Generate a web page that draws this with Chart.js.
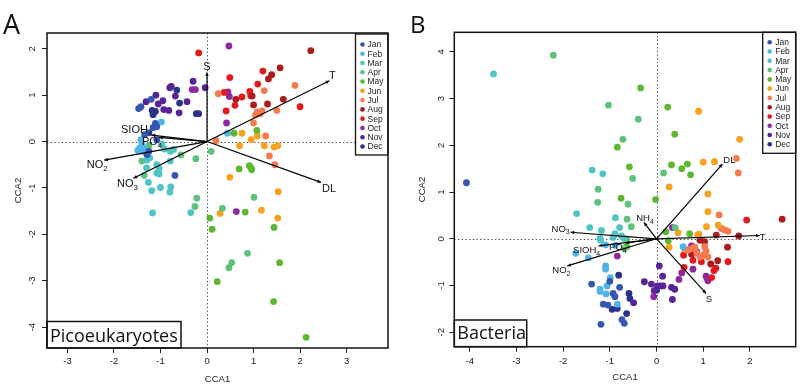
<!DOCTYPE html>
<html><head><meta charset="utf-8">
<script src="https://cdn.jsdelivr.net/npm/chart.js@4.4.0/dist/chart.umd.min.js"></script>
<style>
html,body{margin:0;padding:0;background:#fff;width:800px;height:390px;overflow:hidden}
canvas{position:absolute;top:0}
#cA{left:0}#cB{left:400px}
</style></head><body>
<canvas id="cA" width="400" height="390"></canvas>
<canvas id="cB" width="400" height="390"></canvas>
<script>
const months = ['Jan','Feb','Mar','Apr','May','Jun','Jul','Aug','Sep','Oct','Nov','Dec'];
const monthColors = ['#3656b3','#4fb4e6','#4fc4c4','#5dc27c','#5bb830','#f7a11f','#f67a50','#ab1b1b','#e3191d','#8d28a0','#5a2399','#29318a'];

const xTicksA = [-3,-2,-1,0,1,2,3];
const yTicksA = [-4,-3,-2,-1,0,1,2];
const xTicksB = [-4,-3,-2,-1,0,1,2];
const yTicksB = [-2,-1,0,1,2,3,4];

// Panel A: Picoeukaryotes, [CCA1, CCA2] per month
const picoJan = [[-1.42,0.75],[-1.47,0.71],[-1.20,0.91],[-1.11,0.39],[-1.08,0.32],[-1.16,0.30],[-1.25,0.19],[-1.34,0.15],[-1.08,0.04],[-1.25,-0.21],[-1.29,-0.28],[-0.69,-0.73]];
const picoFeb = [[-0.98,0.42],[-1.42,0.04],[-1.45,-0.14],[-1.40,-0.21],[-1.49,-0.19],[-1.36,-0.14],[-1.30,-0.27],[-1.40,-0.05],[0.44,0.18]];
const picoMar = [[-0.97,-0.05],[-0.79,-0.21],[-0.72,-0.17],[-0.92,-0.16],[-1.29,-0.40],[-1.23,-0.35],[-1.08,-0.50],[-0.79,-0.42],[-1.03,-0.58],[-1.08,-0.68],[-1.03,-0.70],[-1.30,-0.57],[-1.26,-0.88],[-1.19,-1.06],[-1.00,-0.99],[-0.78,-0.98],[-0.80,-1.09],[-1.17,-1.54],[-0.35,-1.53]];
const picoApr = [[-1.25,-0.09],[-1.40,-0.42],[-1.35,-0.73],[-0.24,-0.37],[-0.56,-0.29],[0.09,-0.21],[-0.22,-1.22],[-0.26,-1.40],[0.33,-1.44],[1.01,-1.20],[0.87,-2.41],[0.53,-2.61],[0.47,-2.72]];
const picoMay = [[0.58,0.18],[1.07,0.24],[0.69,-0.59],[0.91,-0.52],[0.95,-0.57],[0.96,-0.61],[0.82,-1.52],[0.06,-1.65],[0.11,-1.89],[1.44,-1.85],[1.56,-2.61],[0.22,-3.02],[1.43,-3.45],[2.13,-4.22]];
const picoJun = [[0.75,0.18],[1.08,0.12],[0.95,0.04],[0.70,-0.09],[1.23,-0.09],[1.44,-0.12],[1.52,-0.09],[0.49,-0.77],[1.53,-1.08],[0.28,-1.55],[1.17,-1.48],[1.52,-1.65]];
const picoJul = [[1.89,1.21],[1.23,1.10],[0.24,1.03],[1.08,0.64],[1.10,0.62],[1.18,0.66],[1.14,0.60],[1.04,0.57],[1.50,0.67],[1.00,0.40],[1.26,0.12],[0.19,0.02],[1.34,-0.31],[1.46,-0.50]];
const picoAug = [[2.23,1.96],[1.57,1.59],[1.39,1.44],[1.32,1.35],[0.62,0.91],[0.97,0.98],[1.64,0.91],[1.30,0.81],[1.00,0.79]];
const picoSep = [[-0.18,1.91],[1.20,1.52],[0.49,1.38],[1.09,1.24],[0.92,1.08],[0.94,0.99],[0.37,1.06],[0.75,0.96],[0.60,0.78],[0.41,0.66],[2.00,0.75]];
const picoOct = [[0.47,2.06],[0.45,1.07],[0.48,0.97],[0.42,0.40],[-0.32,1.12],[-0.25,1.12],[0.63,-1.51]];
const picoNov = [[-0.30,1.30],[-0.77,1.19],[-0.80,1.16],[-0.68,0.98],[-1.10,1.00],[-1.31,0.86],[-0.95,0.88],[-1.05,0.81],[-0.43,0.86],[-0.93,0.69],[-0.82,0.67],[-0.60,0.62],[-0.04,1.16]];
const picoDec = [[-0.65,1.11],[-0.59,0.83],[-1.18,0.67],[-1.11,0.65],[-1.16,0.58],[-0.23,0.60],[-0.18,0.60]];

// Panel B: Bacteria
const bactJan = [[-4.07,1.20],[-1.39,-0.97],[-1.00,-0.91],[-0.79,-1.04],[-0.93,-1.17],[-0.89,-1.24],[-1.14,-1.40],[-1.04,-1.42],[-0.74,-1.73],[-0.69,-1.81],[-1.19,-1.83]];
const bactFeb = [[-1.09,-0.13],[-0.88,-0.14],[-1.73,-0.31],[-1.46,-0.41],[-1.09,-0.58],[-1.09,-0.65],[-0.99,-0.83],[-1.06,-1.01],[-1.21,-1.08],[-1.21,-1.13],[-1.08,-1.18],[-0.84,-1.40],[0.57,-0.17]];
const bactMar = [[-3.49,3.53],[-1.38,1.47],[-1.15,1.39],[-1.71,0.54],[-0.88,0.45],[-1.43,0.24],[-1.18,0.18],[-0.79,0.24],[-1.21,0.01],[-1.20,-0.03],[-0.89,0.11],[-0.93,0.03],[-0.75,0.06],[-0.70,0.01]];
const bactApr = [[-2.21,3.93],[-1.03,2.86],[-0.39,2.56],[-0.72,2.13],[-0.51,1.29],[0.15,1.41],[-1.25,1.06],[-1.26,0.78],[-0.61,0.74],[-0.63,0.42],[-0.54,0.26],[-0.64,-0.01],[-0.69,-0.21],[0.40,0.24]];
const bactMay = [[-0.34,3.23],[0.24,2.82],[0.39,2.24],[-0.84,1.96],[-0.58,1.54],[0.32,1.58],[0.54,1.50],[0.66,1.60],[0.73,1.37],[-0.76,0.87],[-0.02,0.84],[0.20,0.15],[0.71,0.11],[0.25,-0.04],[-0.64,-0.17]];
const bactJun = [[0.90,2.73],[1.78,2.13],[1.00,1.64],[1.24,1.65],[0.27,1.11],[1.10,0.96],[1.10,0.58],[1.07,0.26],[1.32,0.29],[0.46,0.13],[0.88,0.08],[0.91,0.10],[0.27,-0.18]];
const bactJul = [[1.71,1.72],[1.75,1.41],[1.34,0.51],[1.39,0.22],[1.46,0.19],[1.53,0.16],[0.61,-0.23],[0.68,-0.24],[0.75,-0.21],[0.82,-0.18],[1.03,-0.17],[1.06,-0.26],[1.00,-0.35],[0.93,-0.39],[1.10,-0.39],[0.86,-0.31]];
const bactAug = [[2.69,0.42],[1.28,0.08],[1.76,0.06],[0.93,-0.03],[1.03,-0.06],[0.70,-0.23],[0.75,-0.33],[1.52,-0.18],[1.16,-0.54],[1.31,-0.47]];
const bactSep = [[1.93,0.40],[0.58,-0.35],[0.78,-0.46],[0.96,-0.49],[1.53,-0.49],[1.27,-0.63],[1.23,-0.68],[1.18,-0.83],[0.59,-0.61]];
const bactOct = [[0.34,0.24],[-0.84,-0.37],[0.75,-0.15],[0.86,-0.28],[0.78,-0.65],[0.54,-0.73],[0.48,-0.87],[1.06,-0.80],[1.10,-0.90],[1.08,-0.84],[-0.06,-1.24]];
const bactNov = [[0.06,-0.58],[0.13,-0.80],[-0.26,-0.92],[-0.11,-0.97],[0.09,-1.01],[0.14,-1.01],[-0.05,-1.11],[0.32,-1.04],[0.39,-1.08],[0.34,-1.30],[-0.49,-1.37],[0.02,-1.01]];
const bactDec = [[-0.81,-0.78],[-0.59,-1.17],[-0.57,-1.28],[-0.95,-1.51],[-0.84,-1.49],[-0.64,-1.60],[0.00,-1.10]];

// Environmental vectors (biplot arrows)
const picoVarNames = ['S','T','DL','NO','NO','SIOH','PO'];
const picoVarSubs  = ['','','','2','3','4','4'];
const picoVarX = [0.00, 2.63, 2.45, -2.21, -1.58, -1.19, -1.03];
const picoVarY = [1.49, 1.31, -0.88, -0.40, -0.79, 0.14, 0.09];
const bactVarNames = ['DL','T','S','NH','NO','SIOH','PO','NO'];
const bactVarSubs  = ['','','','4','3','4','4','2'];
const bactVarX = [1.41, 2.21, 1.06, -0.27, -1.84, -1.24, -0.66, -1.91];
const bactVarY = [1.60, 0.07, -1.17, 0.35, 0.14, -0.15, -0.09, -0.58];

// label offsets (layout, px) relative to arrow tip
const picoLabelOff = [[0,-6],[3,-6],[8,6],[-7,4],[-6,5],[-15,-6],[-7,4]];
const bactLabelOff = [[7,-4],[3,1],[3,5],[1,-5],[-10,-4],[-12,4],[-8,4],[-6,4]];

const FONT = "'Liberation Sans', Arial, Helvetica, sans-serif";
const TITLEFONT = "'Open Sans', 'Noto Sans', sans-serif";
const fmt = v => (v < 0 ? '-' : '') + Math.abs(v);

function makePanel(canvasId, cfg) {
  const datasets = cfg.series.map((pts, i) => ({
    label: months[i],
    data: pts.map(p => ({x: p[0], y: p[1]})),
    backgroundColor: monthColors[i],
    borderWidth: 0,
    pointRadius: 3.4,
    pointHoverRadius: 3.4
  }));
  const plugin = {
    id: 'deco' + canvasId,
    beforeDatasetsDraw(chart) {
      const {ctx, chartArea: a, scales: {x, y}} = chart;
      ctx.save();
      ctx.strokeStyle = '#444'; ctx.lineWidth = 1; ctx.setLineDash([1.3, 2.4]);
      const x0 = Math.round(x.getPixelForValue(0)) + 0.5, y0 = Math.round(y.getPixelForValue(0)) + 0.5;
      ctx.beginPath(); ctx.moveTo(x0, a.top); ctx.lineTo(x0, a.bottom); ctx.stroke();
      ctx.beginPath(); ctx.moveTo(a.left, y0); ctx.lineTo(a.right, y0); ctx.stroke();
      ctx.restore();
    },
    afterDatasetsDraw(chart) {
      const {ctx, chartArea: a, scales: {x, y}} = chart;
      ctx.save();
      const ox = x.getPixelForValue(0), oy = y.getPixelForValue(0);
      ctx.strokeStyle = '#000'; ctx.fillStyle = '#000'; ctx.lineWidth = 1.2;
      cfg.varX.forEach((vx, i) => {
        const tx = x.getPixelForValue(vx), ty = y.getPixelForValue(cfg.varY[i]);
        ctx.beginPath(); ctx.moveTo(ox, oy); ctx.lineTo(tx, ty); ctx.stroke();
        const ang = Math.atan2(ty - oy, tx - ox), L = 4, w = 0.45;
        ctx.beginPath();
        ctx.moveTo(tx, ty);
        ctx.lineTo(tx - L * Math.cos(ang - w), ty - L * Math.sin(ang - w));
        ctx.lineTo(tx - L * Math.cos(ang + w), ty - L * Math.sin(ang + w));
        ctx.closePath(); ctx.fill();
        const f = cfg.labelSize, fs = f * 0.72;
        ctx.font = f + 'px ' + FONT;
        const mw = ctx.measureText(cfg.varNames[i]).width;
        ctx.font = fs + 'px ' + FONT;
        const sw = cfg.varSubs[i] ? ctx.measureText(cfg.varSubs[i]).width : 0;
        const cx = tx + cfg.labelOff[i][0], cy = ty + cfg.labelOff[i][1];
        const sx = cx - (mw + sw) / 2, base = cy + f * 0.36;
        ctx.textAlign = 'left'; ctx.textBaseline = 'alphabetic';
        ctx.font = f + 'px ' + FONT; ctx.fillStyle = '#111';
        ctx.fillText(cfg.varNames[i], sx, base);
        if (cfg.varSubs[i]) { ctx.font = fs + 'px ' + FONT; ctx.fillText(cfg.varSubs[i], sx + mw, base + f * 0.28); }
        ctx.fillStyle = '#000';
      });
      const lg = cfg.legend;
      const lx = a.right - lg.w, ly = a.top + lg.dy;
      ctx.fillStyle = '#fff'; ctx.fillRect(lx, ly, lg.w, lg.h);
      ctx.strokeStyle = '#111'; ctx.lineWidth = 1.3; ctx.strokeRect(lx, ly, lg.w, lg.h);
      ctx.font = lg.size + 'px ' + FONT; ctx.textBaseline = 'middle'; ctx.textAlign = 'left';
      months.forEach((m, i) => {
        const yy = ly + lg.first + i * lg.step;
        ctx.fillStyle = monthColors[i];
        ctx.beginPath(); ctx.arc(lx + lg.dot, yy, 2.3, 0, Math.PI * 2); ctx.fill();
        ctx.fillStyle = '#222';
        ctx.fillText(m, lx + lg.text, yy + 0.5);
      });
      const nb = cfg.nameBox;
      ctx.fillStyle = '#fff'; ctx.fillRect(a.left, a.bottom - nb.h, nb.w, nb.h);
      ctx.strokeStyle = '#111'; ctx.lineWidth = 1.5; ctx.strokeRect(a.left, a.bottom - nb.h, nb.w, nb.h);
      ctx.fillStyle = '#111'; ctx.font = nb.size + 'px ' + TITLEFONT;
      ctx.textBaseline = 'alphabetic';
      ctx.fillText(cfg.name, a.left + nb.tx, a.bottom - nb.base);
      ctx.strokeStyle = '#111'; ctx.lineWidth = 1.5;
      ctx.strokeRect(a.left, a.top, a.right - a.left, a.bottom - a.top);
      ctx.fillStyle = '#222'; ctx.font = '9.5px ' + FONT; ctx.textAlign = 'center'; ctx.textBaseline = 'middle';
      cfg.yTicks.forEach(v => {
        const py = y.getPixelForValue(v);
        ctx.save(); ctx.translate(cfg.yLabelX, py); ctx.rotate(-Math.PI / 2);
        ctx.fillText(fmt(v), 0, 0); ctx.restore();
      });
      ctx.fillStyle = '#111'; ctx.textAlign = 'left'; ctx.textBaseline = 'alphabetic';
      ctx.font = cfg.letterSize + 'px ' + TITLEFONT;
      ctx.fillText(cfg.letter, cfg.letterX, cfg.letterY);
      ctx.restore();
    }
  };
  const tickFont = {family: FONT, size: 9.5};
  new Chart(document.getElementById(canvasId), {
    type: 'scatter',
    data: {datasets},
    options: {
      responsive: false, animation: false, events: [],
      layout: {padding: {left: 0, top: cfg.padTop, right: cfg.padRight, bottom: 0}},
      plugins: {legend: {display: false}, tooltip: {enabled: false}},
      scales: {
        x: {
          type: 'linear', min: cfg.xMin, max: cfg.xMax,
          afterBuildTicks: s => { s.ticks = cfg.xTicks.map(v => ({value: v})); },
          afterFit: s => { s.height = cfg.xH; },
          ticks: {callback: v => fmt(v), font: tickFont, color: '#222', padding: cfg.xPad, maxRotation: 0, autoSkip: false},
          grid: {display: true, drawOnChartArea: false, drawTicks: true, tickLength: 5, tickColor: '#222', tickWidth: 1},
          border: {display: false},
          title: {display: true, text: 'CCA1', font: {family: FONT, size: 9.5}, color: '#222', padding: {top: 0, bottom: cfg.xTitlePad}}
        },
        y: {
          type: 'linear', min: cfg.yMin, max: cfg.yMax,
          afterBuildTicks: s => { s.ticks = cfg.yTicks.map(v => ({value: v})); },
          afterFit: s => { s.width = cfg.yW; },
          ticks: {display: false},
          grid: {display: true, drawOnChartArea: false, drawTicks: true, tickLength: 5, tickColor: '#222', tickWidth: 1},
          border: {display: false},
          title: {display: true, text: 'CCA2', font: {family: FONT, size: 9.5}, color: '#222', padding: {top: cfg.yTitlePad, bottom: 0}}
        }
      }
    },
    plugins: [plugin]
  });
}

function init() {
  makePanel('cA', {
    series: [picoJan, picoFeb, picoMar, picoApr, picoMay, picoJun, picoJul, picoAug, picoSep, picoOct, picoNov, picoDec],
    varNames: picoVarNames, varSubs: picoVarSubs, varX: picoVarX, varY: picoVarY, labelOff: picoLabelOff, labelSize: 11,
    xTicks: xTicksA, yTicks: yTicksA, xMin: -3.44, xMax: 3.89, yMin: -4.45, yMax: 2.34,
    padTop: 33, padRight: 12, xH: 42, yW: 47, xPad: 3, xTitlePad: 5, yTitlePad: 13, yLabelX: 32.5,
    legend: {w: 32.5, h: 121, dy: 1, first: 10.5, step: 9.27, dot: 7, text: 12, size: 8.5},
    nameBox: {w: 134, h: 26.5, size: 18, tx: 3, base: 6.5}, name: 'Picoeukaryotes',
    letter: 'A', letterSize: 27, letterX: 3, letterY: 34
  });
  makePanel('cB', {
    series: [bactJan, bactFeb, bactMar, bactApr, bactMay, bactJun, bactJul, bactAug, bactSep, bactOct, bactNov, bactDec],
    varNames: bactVarNames, varSubs: bactVarSubs, varX: bactVarX, varY: bactVarY, labelOff: bactLabelOff, labelSize: 9.5,
    xTicks: xTicksB, yTicks: yTicksB, xMin: -4.33, xMax: 2.98, yMin: -2.31, yMax: 4.42,
    padTop: 32.3, padRight: 4.3, xH: 43.3, yW: 54.3, xPad: 4, xTitlePad: 7, yTitlePad: 16.5, yLabelX: 41.7,
    legend: {w: 33, h: 121, dy: 0, first: 10, step: 9.27, dot: 7, text: 12.5, size: 8.5},
    nameBox: {w: 72.4, h: 26.7, size: 18, tx: 3, base: 7.5}, name: 'Bacteria',
    letter: 'B', letterSize: 24, letterX: 10, letterY: 33
  });
}
Promise.all([
  document.fonts.load("10px 'Liberation Sans'"),
  document.fonts.load("18px 'Open Sans'")
]).catch(() => {}).then(init);
</script>
</body></html>
